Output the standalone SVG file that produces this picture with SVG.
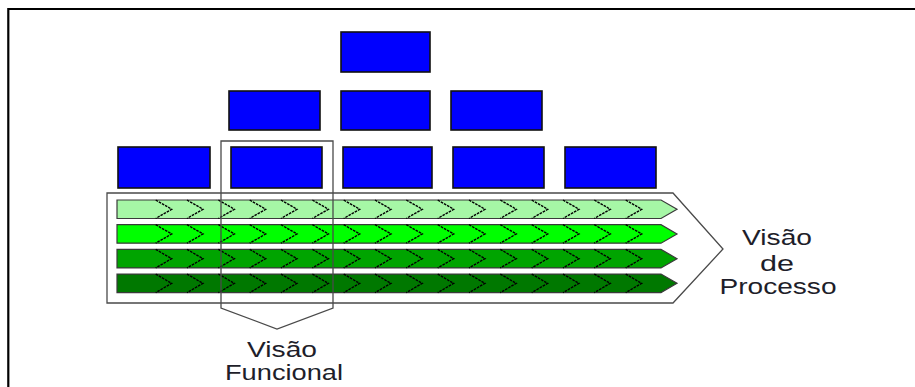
<svg xmlns="http://www.w3.org/2000/svg" xmlns:xlink="http://www.w3.org/1999/xlink" width="915" height="387" viewBox="0 0 915 387">
  <style>
    .box { fill: #0000ff; stroke: #111; stroke-width: 1.6; }
    .bar { stroke: #3a3a3a; stroke-width: 1.2; }
    .chev { fill: none; stroke: #000; stroke-width: 1.4; stroke-dasharray: 2.6 1; }
    .outline { fill: none; stroke: #4a4a4a; stroke-width: 1.3; }
    .label { font-family: "Liberation Sans", Arial, sans-serif; font-size: 21.5px; fill: #1e1e2a; text-anchor: middle; }
  </style>
  <defs>
    <!-- one row of chevron separators, drawn at bar-relative y -->
    <g id="chevRow" class="chev">
      <polyline points="155.7,0 171.7,9.25 155.7,18.5"/>
      <polyline points="187.0,0 203.0,9.25 187.0,18.5"/>
      <polyline points="218.4,0 234.4,9.25 218.4,18.5"/>
      <polyline points="249.7,0 265.7,9.25 249.7,18.5"/>
      <polyline points="281.0,0 297.0,9.25 281.0,18.5"/>
      <polyline points="312.4,0 328.4,9.25 312.4,18.5"/>
      <polyline points="343.7,0 359.7,9.25 343.7,18.5"/>
      <polyline points="375.0,0 391.0,9.25 375.0,18.5"/>
      <polyline points="406.3,0 422.3,9.25 406.3,18.5"/>
      <polyline points="437.7,0 453.7,9.25 437.7,18.5"/>
      <polyline points="469.0,0 485.0,9.25 469.0,18.5"/>
      <polyline points="500.3,0 516.3,9.25 500.3,18.5"/>
      <polyline points="531.7,0 547.7,9.25 531.7,18.5"/>
      <polyline points="563.0,0 579.0,9.25 563.0,18.5"/>
      <polyline points="594.3,0 610.3,9.25 594.3,18.5"/>
      <polyline points="625.7,0 641.7,9.25 625.7,18.5"/>
    </g>
    <path id="barShape" d="M117,0 H661 L677,9.25 L661,18.5 H117 Z"/>
  </defs>

  <!-- frame -->
  <path d="M8.3,387 V9 H915" fill="none" stroke="#000" stroke-width="2.2"/>

  <!-- organisational boxes -->
  <g id="box-top"><rect class="box" x="341" y="32" width="89" height="40"/></g>
  <g id="box-r2-1"><rect class="box" x="229" y="91" width="91" height="39"/></g>
  <g id="box-r2-2"><rect class="box" x="341" y="91" width="89" height="39"/></g>
  <g id="box-r2-3"><rect class="box" x="451" y="91" width="91" height="39"/></g>
  <g id="box-r3-1"><rect class="box" x="118" y="147" width="92" height="41"/></g>
  <g id="box-r3-2"><rect class="box" x="231" y="147" width="91" height="41"/></g>
  <g id="box-r3-3"><rect class="box" x="343" y="147" width="89" height="41"/></g>
  <g id="box-r3-4"><rect class="box" x="453" y="147" width="91" height="41"/></g>
  <g id="box-r3-5"><rect class="box" x="565" y="147" width="91" height="41"/></g>

  <!-- process view arrow -->
  <g id="process-view">
    <path class="outline" d="M107,193 H673 L723,249 L673,303 H107 Z"/>
    <text class="label" x="777" y="245" textLength="70" lengthAdjust="spacingAndGlyphs">Visão</text>
    <text class="label" x="777" y="271" textLength="34" lengthAdjust="spacingAndGlyphs">de</text>
    <text class="label" x="778" y="294" textLength="117" lengthAdjust="spacingAndGlyphs">Processo</text>
  </g>

  <!-- process chains -->
  <g id="chain-1" transform="translate(0,200)">
    <use xlink:href="#barShape" class="bar" fill="#a6f7a6"/>
    <use xlink:href="#chevRow"/>
  </g>
  <g id="chain-2" transform="translate(0,224.7)">
    <use xlink:href="#barShape" class="bar" fill="#00ff00"/>
    <use xlink:href="#chevRow"/>
  </g>
  <g id="chain-3" transform="translate(0,249.4)">
    <use xlink:href="#barShape" class="bar" fill="#00a400" stroke="#111"/>
    <use xlink:href="#chevRow"/>
  </g>
  <g id="chain-4" transform="translate(0,274.1)">
    <use xlink:href="#barShape" class="bar" fill="#007800"/>
    <use xlink:href="#chevRow"/>
  </g>

  <!-- functional view bracket -->
  <g id="functional-view">
    <path class="outline" d="M221,141 H333 V308 L277,329 L221,308 Z"/>
    <text class="label" x="282" y="357" textLength="70" lengthAdjust="spacingAndGlyphs">Visão</text>
    <text class="label" x="284" y="380" textLength="118" lengthAdjust="spacingAndGlyphs">Funcional</text>
  </g>
</svg>
